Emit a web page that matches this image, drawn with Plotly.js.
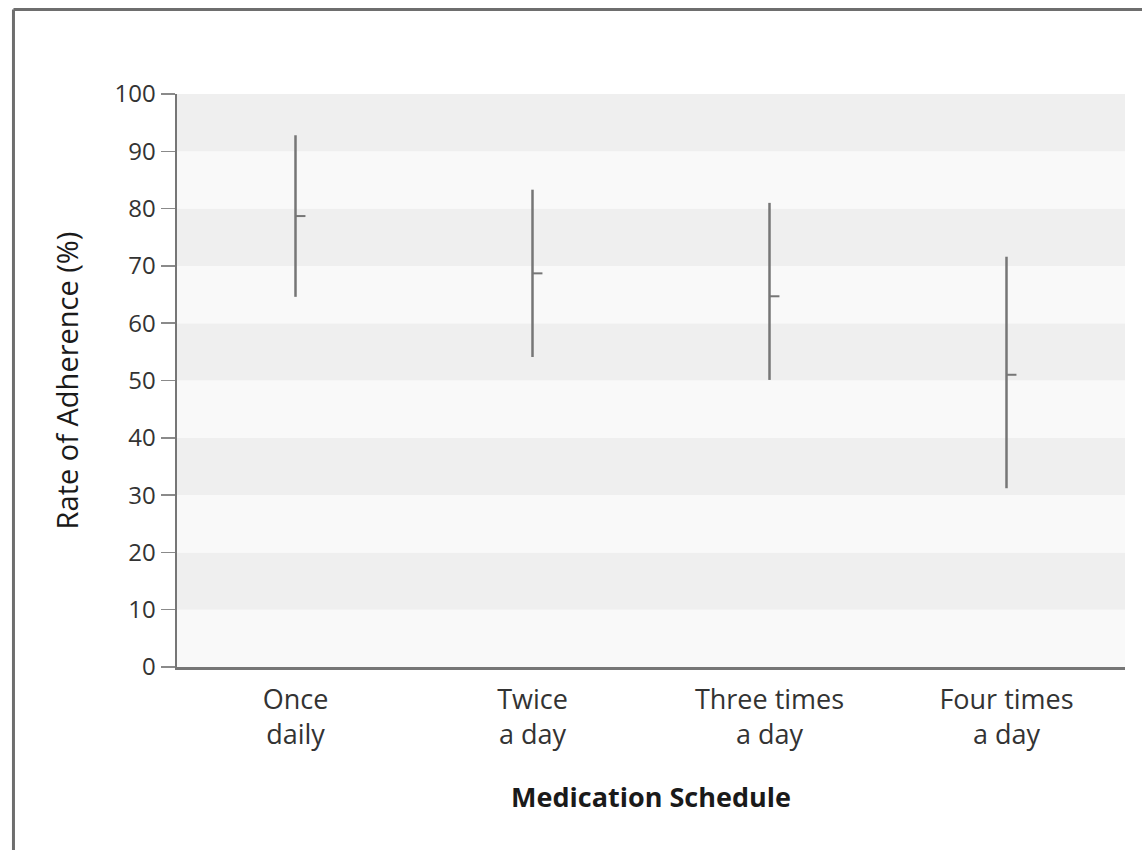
<!DOCTYPE html>
<html>
<head>
<meta charset="utf-8">
<script src="https://cdn.plot.ly/plotly-3.0.1.min.js"></script>
<style>
html,body{margin:0;padding:0;background:#fff;}
#chart{width:1142px;height:850px;}
</style>
</head>
<body>
<div id="chart"></div>
<script>
// Data
const categories = ["Once<br>daily", "Twice<br>a day", "Three times<br>a day", "Four times<br>a day"];
const meanRate = [78.7, 68.7, 64.7, 51.0];
const lowerRate = [64.6, 54.1, 50.1, 31.2];
const upperRate = [92.8, 83.3, 81.0, 71.6];
const yTicks = [0, 10, 20, 30, 40, 50, 60, 70, 80, 90, 100];

const FONT = "'Open Sans', 'Noto Sans', sans-serif";
const LINE = "#767676";
const xPos = categories.map((c, i) => i);

const trace = {
  type: "scatter",
  mode: "markers",
  x: xPos,
  y: meanRate,
  marker: {size: 1, opacity: 0},
  hoverinfo: "skip",
  error_y: {
    type: "data",
    symmetric: false,
    array: upperRate.map((u, i) => u - meanRate[i]),
    arrayminus: meanRate.map((m, i) => m - lowerRate[i]),
    color: LINE,
    thickness: 2.5,
    width: 0
  },
  error_x: {
    type: "data",
    symmetric: false,
    array: meanRate.map(() => 0.042),
    arrayminus: meanRate.map(() => 0),
    color: LINE,
    thickness: 2,
    width: 0
  }
};

// alternating horizontal bands between ticks
const shapes = [];
for (let i = 0; i < yTicks.length - 1; i++) {
  const dark = (yTicks.length - 2 - i) % 2 === 0;
  shapes.push({
    type: "rect", xref: "paper", yref: "y", layer: "below",
    x0: 0, x1: 1, y0: yTicks[i], y1: yTicks[i + 1],
    fillcolor: dark ? "#efefef" : "#f9f9f9", line: {width: 0}
  });
}
// outer frame
shapes.push({
  type: "line", xref: "paper", yref: "paper",
  x0: -0.1725, x1: 1.05, y0: 1.1475, y1: 1.1475,
  line: {color: "#6e6e6e", width: 3}
});
shapes.push({
  type: "line", xref: "paper", yref: "paper",
  x0: -0.1725, x1: -0.1725, y0: 1.1475, y1: -0.4,
  line: {color: "#6e6e6e", width: 3}
});

const layout = {
  width: 1142, height: 850,
  margin: {l: 177, r: 17, t: 94, b: 183},
  paper_bgcolor: "#ffffff",
  plot_bgcolor: "#ffffff",
  showlegend: false,
  font: {family: FONT, color: "#2a2a2a"},
  xaxis: {
    range: [-0.5, 3.5],
    tickvals: xPos,
    ticktext: categories,
    showgrid: false, zeroline: false,
    showline: true, linecolor: LINE, linewidth: 2.5,
    ticks: "",
    ticklabelstandoff: 7,
    tickfont: {family: FONT, size: 27, color: "#333"},
    title: {text: "<b>Medication Schedule</b>", font: {family: FONT, size: 27, color: "#1a1a1a"}, standoff: 37},
    fixedrange: true
  },
  yaxis: {
    range: [0, 100],
    tickvals: yTicks,
    showgrid: false, zeroline: false,
    showline: true, linecolor: LINE, linewidth: 2.5,
    ticks: "outside", ticklen: 14, tickwidth: 1.5, tickcolor: "#8a8a8a",
    tickfont: {family: FONT, size: 24, color: "#333"},
    title: {text: "Rate of Adherence (%)", font: {family: FONT, size: 29, color: "#1a1a1a"}, standoff: 28},
    fixedrange: true
  },
  shapes: shapes
};

Plotly.newPlot("chart", [trace], layout, {displayModeBar: false, staticPlot: true});
</script>
</body>
</html>
